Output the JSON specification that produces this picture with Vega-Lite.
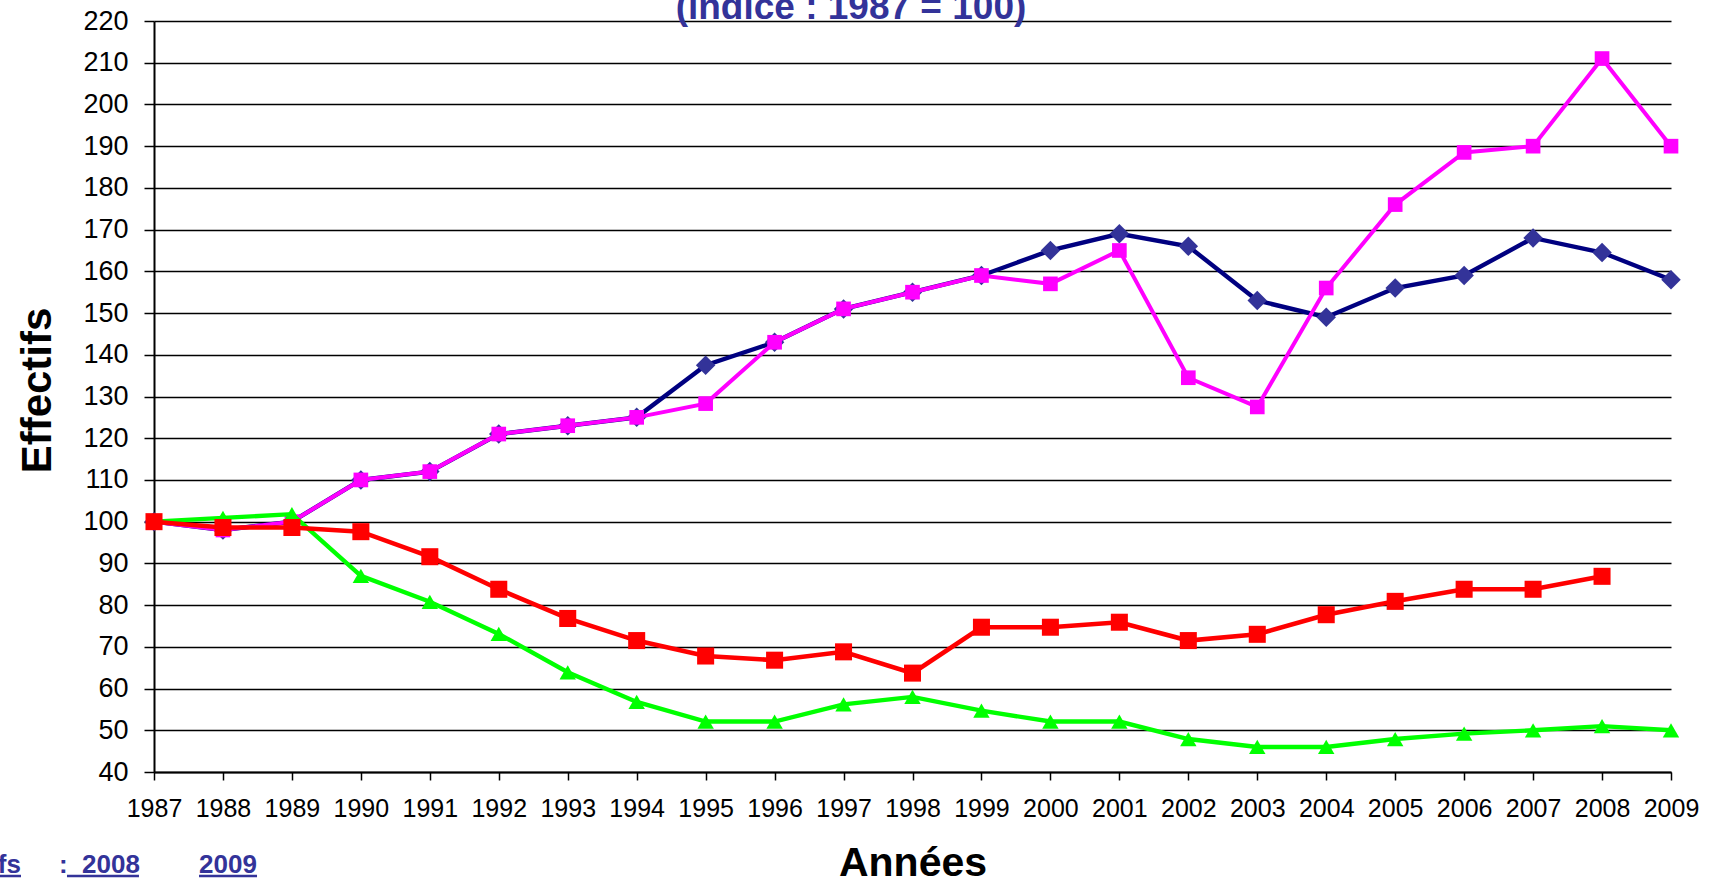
{
  "$schema": "https://vega.github.io/schema/vega-lite/v6.json",
  "width": 1517,
  "height": 751,
  "autosize": {"type": "none"},
  "padding": {"left": 154, "top": 21, "right": 40, "bottom": 112},
  "background": "white",
  "config": {
    "view": {"stroke": null},
    "axis": {
      "labelFont": "Liberation Sans",
      "titleFont": "Liberation Sans",
      "labelColor": "black",
      "titleColor": "black",
      "domainColor": "black",
      "tickColor": "black"
    }
  },
  "datasets": {
    "main": [
      {"year": 1987, "serie": "Série 1", "value": 100},
      {"year": 1988, "serie": "Série 1", "value": 98},
      {"year": 1989, "serie": "Série 1", "value": 100},
      {"year": 1990, "serie": "Série 1", "value": 110},
      {"year": 1991, "serie": "Série 1", "value": 112},
      {"year": 1992, "serie": "Série 1", "value": 121},
      {"year": 1993, "serie": "Série 1", "value": 123},
      {"year": 1994, "serie": "Série 1", "value": 125},
      {"year": 1995, "serie": "Série 1", "value": 137.5},
      {"year": 1996, "serie": "Série 1", "value": 143},
      {"year": 1997, "serie": "Série 1", "value": 151},
      {"year": 1998, "serie": "Série 1", "value": 155},
      {"year": 1999, "serie": "Série 1", "value": 159},
      {"year": 2000, "serie": "Série 1", "value": 165},
      {"year": 2001, "serie": "Série 1", "value": 169},
      {"year": 2002, "serie": "Série 1", "value": 166},
      {"year": 2003, "serie": "Série 1", "value": 153},
      {"year": 2004, "serie": "Série 1", "value": 149},
      {"year": 2005, "serie": "Série 1", "value": 156},
      {"year": 2006, "serie": "Série 1", "value": 159},
      {"year": 2007, "serie": "Série 1", "value": 168},
      {"year": 2008, "serie": "Série 1", "value": 164.5},
      {"year": 2009, "serie": "Série 1", "value": 158},
      {"year": 1987, "serie": "Série 2", "value": 100},
      {"year": 1988, "serie": "Série 2", "value": 98},
      {"year": 1989, "serie": "Série 2", "value": 100},
      {"year": 1990, "serie": "Série 2", "value": 110},
      {"year": 1991, "serie": "Série 2", "value": 112},
      {"year": 1992, "serie": "Série 2", "value": 121},
      {"year": 1993, "serie": "Série 2", "value": 123},
      {"year": 1994, "serie": "Série 2", "value": 125},
      {"year": 1995, "serie": "Série 2", "value": 128.3},
      {"year": 1996, "serie": "Série 2", "value": 143},
      {"year": 1997, "serie": "Série 2", "value": 151},
      {"year": 1998, "serie": "Série 2", "value": 155},
      {"year": 1999, "serie": "Série 2", "value": 159},
      {"year": 2000, "serie": "Série 2", "value": 157},
      {"year": 2001, "serie": "Série 2", "value": 165},
      {"year": 2002, "serie": "Série 2", "value": 134.5},
      {"year": 2003, "serie": "Série 2", "value": 127.5},
      {"year": 2004, "serie": "Série 2", "value": 156},
      {"year": 2005, "serie": "Série 2", "value": 176},
      {"year": 2006, "serie": "Série 2", "value": 188.5},
      {"year": 2007, "serie": "Série 2", "value": 190},
      {"year": 2008, "serie": "Série 2", "value": 211},
      {"year": 2009, "serie": "Série 2", "value": 190},
      {"year": 1987, "serie": "Série 3", "value": 100},
      {"year": 1988, "serie": "Série 3", "value": 98.6},
      {"year": 1989, "serie": "Série 3", "value": 98.6},
      {"year": 1990, "serie": "Série 3", "value": 97.6},
      {"year": 1991, "serie": "Série 3", "value": 91.6},
      {"year": 1992, "serie": "Série 3", "value": 83.8},
      {"year": 1993, "serie": "Série 3", "value": 76.8},
      {"year": 1994, "serie": "Série 3", "value": 71.5},
      {"year": 1995, "serie": "Série 3", "value": 67.8},
      {"year": 1996, "serie": "Série 3", "value": 66.8},
      {"year": 1997, "serie": "Série 3", "value": 68.8},
      {"year": 1998, "serie": "Série 3", "value": 63.7},
      {"year": 1999, "serie": "Série 3", "value": 74.7},
      {"year": 2000, "serie": "Série 3", "value": 74.7},
      {"year": 2001, "serie": "Série 3", "value": 75.9},
      {"year": 2002, "serie": "Série 3", "value": 71.5},
      {"year": 2003, "serie": "Série 3", "value": 73},
      {"year": 2004, "serie": "Série 3", "value": 77.7},
      {"year": 2005, "serie": "Série 3", "value": 80.9},
      {"year": 2006, "serie": "Série 3", "value": 83.8},
      {"year": 2007, "serie": "Série 3", "value": 83.8},
      {"year": 2008, "serie": "Série 3", "value": 86.9},
      {"year": 1987, "serie": "Série 4", "value": 100},
      {"year": 1988, "serie": "Série 4", "value": 100.9},
      {"year": 1989, "serie": "Série 4", "value": 101.8},
      {"year": 1990, "serie": "Série 4", "value": 87},
      {"year": 1991, "serie": "Série 4", "value": 80.8},
      {"year": 1992, "serie": "Série 4", "value": 73.1},
      {"year": 1993, "serie": "Série 4", "value": 63.9},
      {"year": 1994, "serie": "Série 4", "value": 56.8},
      {"year": 1995, "serie": "Série 4", "value": 52.1},
      {"year": 1996, "serie": "Série 4", "value": 52.1},
      {"year": 1997, "serie": "Série 4", "value": 56.2},
      {"year": 1998, "serie": "Série 4", "value": 58},
      {"year": 1999, "serie": "Série 4", "value": 54.7},
      {"year": 2000, "serie": "Série 4", "value": 52.1},
      {"year": 2001, "serie": "Série 4", "value": 52.1},
      {"year": 2002, "serie": "Série 4", "value": 47.9},
      {"year": 2003, "serie": "Série 4", "value": 46},
      {"year": 2004, "serie": "Série 4", "value": 46},
      {"year": 2005, "serie": "Série 4", "value": 47.9},
      {"year": 2006, "serie": "Série 4", "value": 49.2},
      {"year": 2007, "serie": "Série 4", "value": 50},
      {"year": 2008, "serie": "Série 4", "value": 51},
      {"year": 2009, "serie": "Série 4", "value": 50}
    ]
  },
  "layer": [
    {
      "data": {"name": "main"},
      "encoding": {
        "x": {
          "field": "year",
          "type": "quantitative",
          "scale": {"domain": [1987, 2009], "nice": false, "zero": false},
          "axis": {
            "values": [1987,1988,1989,1990,1991,1992,1993,1994,1995,1996,1997,1998,1999,2000,2001,2002,2003,2004,2005,2006,2007,2008,2009],
            "format": "d",
            "grid": false,
            "domainWidth": 2,
            "tickSize": 8,
            "tickWidth": 1.5,
            "labelFontSize": 25,
            "labelPadding": 16,
            "labelFlush": false,
            "labelOverlap": false,
            "title": "Années",
            "titleFontSize": 41,
            "titleFontWeight": "bold",
            "titleBaseline": "alphabetic",
            "titleY": 103
          }
        },
        "y": {
          "field": "value",
          "type": "quantitative",
          "scale": {"domain": [40, 220], "nice": false, "zero": false},
          "axis": {
            "values": [40,50,60,70,80,90,100,110,120,130,140,150,160,170,180,190,200,210,220],
            "grid": true,
            "gridColor": "black",
            "gridWidth": 1.6,
            "gridOpacity": 1,
            "domainWidth": 2,
            "tickSize": 10,
            "tickWidth": 1.5,
            "labelFontSize": 27,
            "labelPadding": 16,
            "labelFlush": false,
            "labelOverlap": false,
            "title": "Effectifs",
            "titleFontSize": 42,
            "titleFontWeight": "bold",
            "titleAngle": -90,
            "titleAlign": "center",
            "titleBaseline": "alphabetic",
            "titleX": -104,
            "titleY": 369
          }
        }
      },
      "layer": [
        {
          "transform": [{"filter": "datum.serie === 'Série 1'"}],
          "mark": {"type": "line", "color": "#000080", "strokeWidth": 4.4}
        },
        {
          "transform": [{"filter": "datum.serie === 'Série 1'"}],
          "mark": {"type": "point", "shape": "diamond", "filled": true, "color": "#333399", "opacity": 1, "size": 380}
        },
        {
          "transform": [{"filter": "datum.serie === 'Série 2'"}],
          "mark": {"type": "line", "color": "#FF00FF", "strokeWidth": 4}
        },
        {
          "transform": [{"filter": "datum.serie === 'Série 2'"}],
          "mark": {"type": "point", "shape": "square", "filled": true, "color": "#FF00FF", "opacity": 1, "size": 215}
        },
        {
          "transform": [{"filter": "datum.serie === 'Série 4'"}],
          "mark": {"type": "line", "color": "#00FF00", "strokeWidth": 4.4}
        },
        {
          "transform": [{"filter": "datum.serie === 'Série 4'"}],
          "mark": {"type": "point", "shape": "triangle-up", "filled": true, "color": "#00FF00", "opacity": 1, "size": 270}
        },
        {
          "transform": [{"filter": "datum.serie === 'Série 3'"}],
          "mark": {"type": "line", "color": "#FF0000", "strokeWidth": 4.6}
        },
        {
          "transform": [{"filter": "datum.serie === 'Série 3'"}],
          "mark": {"type": "point", "shape": "square", "filled": true, "color": "#FF0000", "opacity": 1, "size": 290}
        }
      ]
    },
    {
      "data": {"values": [{"note": "(indice : 1987 = 100)"}]},
      "mark": {"type": "text", "align": "center", "baseline": "alphabetic", "font": "Liberation Sans", "fontSize": 37, "fontWeight": "bold", "color": "#333399"},
      "encoding": {"x": {"datum": 1997.108, "type": "quantitative"}, "y": {"datum": 220.48, "type": "quantitative"}, "text": {"field": "note", "type": "nominal"}}
    },
    {
      "data": {"values": [{"note": "fs"}]},
      "mark": {"type": "text", "align": "right", "baseline": "alphabetic", "font": "Liberation Sans", "fontSize": 26, "fontWeight": "bold", "color": "#333399"},
      "encoding": {"x": {"datum": 1985.071, "type": "quantitative"}, "y": {"datum": 15.8, "type": "quantitative"}, "text": {"field": "note", "type": "nominal"}}
    },
    {
      "data": {"values": [{"note": ":"}]},
      "mark": {"type": "text", "align": "left", "baseline": "alphabetic", "font": "Liberation Sans", "fontSize": 26, "fontWeight": "bold", "color": "#333399"},
      "encoding": {"x": {"datum": 1985.622, "type": "quantitative"}, "y": {"datum": 15.8, "type": "quantitative"}, "text": {"field": "note", "type": "nominal"}}
    },
    {
      "data": {"values": [{"note": "2008"}]},
      "mark": {"type": "text", "align": "left", "baseline": "alphabetic", "font": "Liberation Sans", "fontSize": 26, "fontWeight": "bold", "color": "#333399"},
      "encoding": {"x": {"datum": 1985.956, "type": "quantitative"}, "y": {"datum": 15.8, "type": "quantitative"}, "text": {"field": "note", "type": "nominal"}}
    },
    {
      "data": {"values": [{"note": "2009"}]},
      "mark": {"type": "text", "align": "left", "baseline": "alphabetic", "font": "Liberation Sans", "fontSize": 26, "fontWeight": "bold", "color": "#333399"},
      "encoding": {"x": {"datum": 1987.653, "type": "quantitative"}, "y": {"datum": 15.8, "type": "quantitative"}, "text": {"field": "note", "type": "nominal"}}
    },
    {
      "data": {"values": [{"note": "fs"}]},
      "mark": {"type": "rule", "color": "#333399", "strokeWidth": 2.5},
      "encoding": {"x": {"datum": 1984.62, "type": "quantitative"}, "x2": {"datum": 1985.071}, "y": {"datum": 15.07, "type": "quantitative"}}
    },
    {
      "data": {"values": [{"note": "2008"}]},
      "mark": {"type": "rule", "color": "#333399", "strokeWidth": 2.5},
      "encoding": {"x": {"datum": 1985.738, "type": "quantitative"}, "x2": {"datum": 1986.782}, "y": {"datum": 15.07, "type": "quantitative"}}
    },
    {
      "data": {"values": [{"note": "2009"}]},
      "mark": {"type": "rule", "color": "#333399", "strokeWidth": 2.5},
      "encoding": {"x": {"datum": 1987.653, "type": "quantitative"}, "x2": {"datum": 1988.494}, "y": {"datum": 15.07, "type": "quantitative"}}
    }
  ]
}
